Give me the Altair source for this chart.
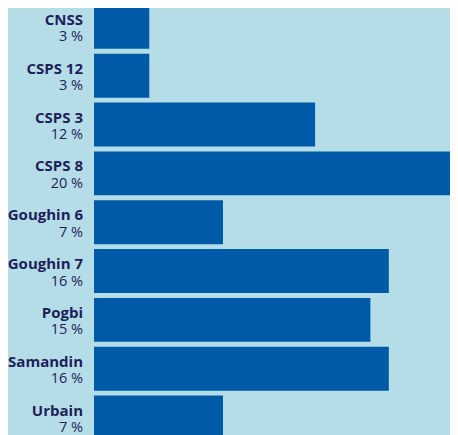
import altair as alt
import pandas as pd

categories = ["CNSS", "CSPS 12", "CSPS 3", "CSPS 8", "Goughin 6", "Goughin 7", "Pogbi", "Samandin", "Urbain"]
values = [3, 3, 12, 20, 7, 16, 15, 16, 7]
pct_labels = [f"{v} %" for v in values]

df = pd.DataFrame({"cat": categories, "val": values, "pct": pct_labels})

BG = "#b5dde8"
BAR = "#005aa8"
TXT = "#1e1e5a"

# page has an 8px margin: internal coordinates = reference coordinates - 8
yenc = alt.Y("cat:N", sort=None, axis=None,
             scale=alt.Scale(range=[-8, 436.4], paddingInner=0.1, paddingOuter=0.1))

base = alt.Chart(df)

bars = base.mark_bar(color=BAR, clip=True).encode(
    x=alt.X("val:Q", axis=None, scale=alt.Scale(domain=[0, 19.32], range=[86, 442])),
    y=yenc,
)

names = base.mark_text(align="right", baseline="alphabetic", dy=-2, font="Open Sans",
                       fontWeight="bold", fontSize=15, color=TXT).encode(
    x=alt.value(75), y=yenc, text="cat:N")

pcts = base.mark_text(align="right", baseline="alphabetic", dy=14.5, font="Open Sans",
                      fontSize=14.5, color=TXT).encode(
    x=alt.value(75), y=yenc, text="pct:N")

chart = alt.layer(bars, names, pcts).properties(
    width=442, height=427,
    autosize=alt.AutoSizeParams(type="none"),
    padding=0,
    background=BG,
).configure_view(stroke=None)

chart.save("out.html", embed_options={"renderer": "svg", "actions": False})
